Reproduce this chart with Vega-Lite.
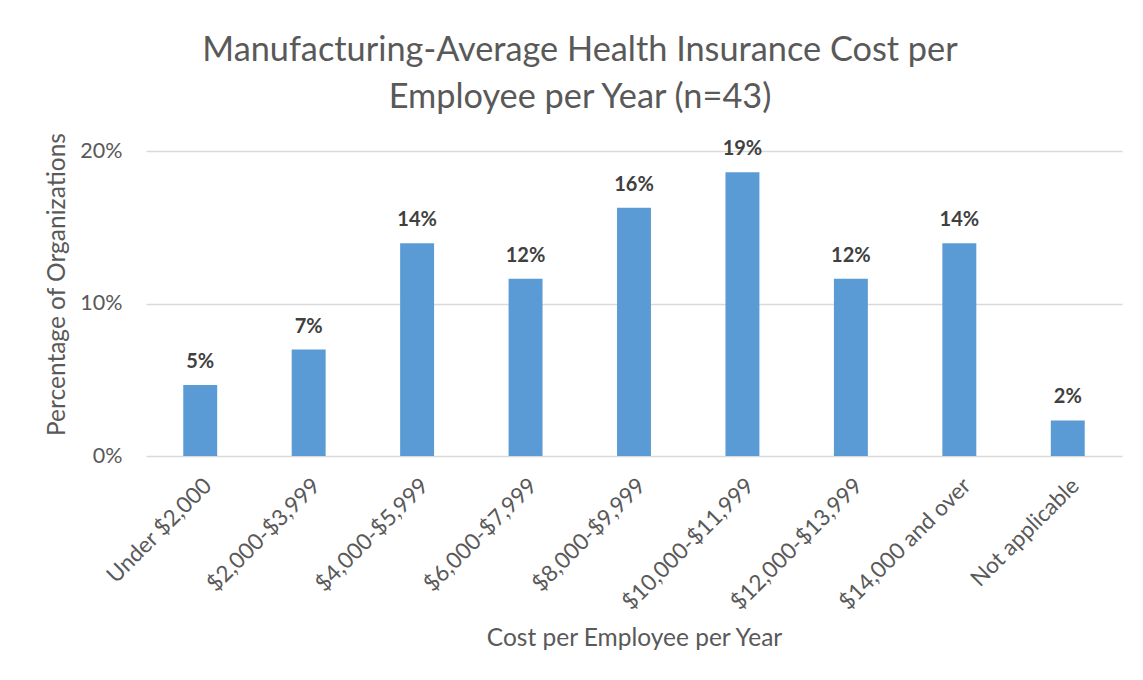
{
  "$schema": "https://vega.github.io/schema/vega-lite/v6.json",
  "width": 976,
  "height": 305,
  "autosize": "none",
  "padding": {"left": 146, "top": 151, "right": 21, "bottom": 224},
  "background": "white",
  "config": {"view": {"stroke": null}, "font": "Lato"},
  "title": {
    "text": ["Manufacturing-Average Health Insurance Cost per", "Employee per Year (n=43)"],
    "fontSize": 34.3,
    "fontWeight": "normal",
    "font": "Lato",
    "color": "#595959",
    "anchor": "middle",
    "dx": -54,
    "offset": 17,
    "lineHeight": 47
  },
  "data": {
    "values": [
      {"cost": "Under $2,000", "pct": 0.0465},
      {"cost": "$2,000-$3,999", "pct": 0.0698},
      {"cost": "$4,000-$5,999", "pct": 0.1395},
      {"cost": "$6,000-$7,999", "pct": 0.1163},
      {"cost": "$8,000-$9,999", "pct": 0.1628},
      {"cost": "$10,000-$11,999", "pct": 0.1860},
      {"cost": "$12,000-$13,999", "pct": 0.1163},
      {"cost": "$14,000 and over", "pct": 0.1395},
      {"cost": "Not applicable", "pct": 0.0233}
    ]
  },
  "encoding": {
    "x": {
      "field": "cost",
      "type": "nominal",
      "sort": null,
      "scale": {"paddingInner": 0.687, "paddingOuter": 0.3435},
      "axis": {
        "labelAngle": -45,
        "labelAlign": "right",
        "labelBaseline": "top",
        "labelFontSize": 22.5,
        "labelColor": "#595959",
        "labelPadding": 18,
        "ticks": false,
        "domain": false,
        "title": "Cost per Employee per Year",
        "titleFontSize": 24.5,
        "titleFontWeight": "normal",
        "titleColor": "#595959",
        "titleY": 182,
        "titleBaseline": "middle"
      }
    },
    "y": {
      "field": "pct",
      "type": "quantitative",
      "scale": {"domain": [0, 0.2], "nice": false},
      "axis": {
        "values": [0, 0.1, 0.2],
        "format": ".0%",
        "labelFontSize": 21.5,
        "labelColor": "#595959",
        "labelPadding": 24,
        "ticks": false,
        "domain": false,
        "grid": true,
        "gridColor": "#D9D9D9",
        "gridWidth": 1.3,
        "title": "Percentage of Organizations",
        "titleFontSize": 24.5,
        "titleFontWeight": "normal",
        "titleColor": "#595959",
        "titleAngle": -90,
        "titleX": -89,
        "titleY": 133,
        "titleAlign": "center",
        "titleBaseline": "middle"
      }
    }
  },
  "layer": [
    {"mark": {"type": "bar", "color": "#5B9BD5"}},
    {
      "mark": {"type": "text", "dy": -17, "baseline": "alphabetic", "fontWeight": "bold", "fontSize": 20, "color": "#404040"},
      "encoding": {"text": {"field": "pct", "type": "quantitative", "format": ".0%"}}
    }
  ]
}
